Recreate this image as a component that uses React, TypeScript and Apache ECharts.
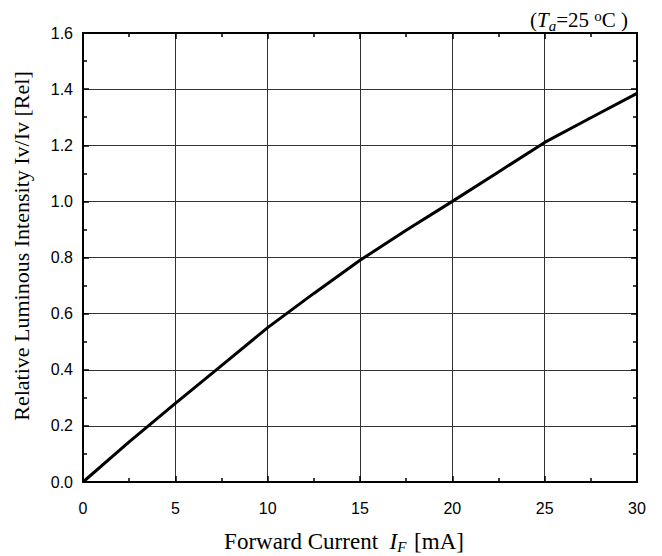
import React, { useEffect, useRef } from "react";
import * as echarts from "echarts";

const currents = [0, 2.5, 5, 7.5, 10, 12.5, 15, 17.5, 20, 22.5, 25, 27.5, 30];
const intensity = [0, 0.143, 0.28, 0.415, 0.55, 0.672, 0.79, 0.897, 1.0, 1.105, 1.21, 1.298, 1.385];
const xTicks = { min: 0, max: 30, interval: 5 };
const yTicks = { min: 0, max: 1.6, interval: 0.2 };

export default function App() {
  const ref = useRef<HTMLDivElement>(null);
  useEffect(() => {
    const chart = echarts.init(ref.current!, undefined, { renderer: "svg" });
    const axisCommon = {
      axisLine: { show: true, onZero: false, lineStyle: { color: "#000", width: 2 } },
      axisTick: { show: true, inside: true, length: 6, lineStyle: { color: "#000", width: 1.5 } },
      minorTick: { show: true, splitNumber: 2, length: 4, lineStyle: { color: "#000", width: 1.5 } },
    };
    const serif = "'Liberation Serif', 'Times New Roman', serif";
    const sans = "'Liberation Sans', Arial, sans-serif";
    chart.setOption({
      animation: false,
      backgroundColor: "#fff",
      grid: { left: 83, top: 33, width: 554, height: 449, containLabel: false },
      xAxis: [
        {
          type: "value",
          ...xTicks,
          position: "bottom",
          ...axisCommon,
          axisLabel: { color: "#000", fontSize: 16, fontFamily: sans, margin: 18 },
          splitLine: { show: true, lineStyle: { color: "#333", width: 1 } },
        },
        {
          type: "value",
          ...xTicks,
          position: "top",
          ...axisCommon,
          axisLabel: { show: false },
          splitLine: { show: false },
        },
      ],
      yAxis: [
        {
          type: "value",
          ...yTicks,
          position: "left",
          ...axisCommon,
          axisLabel: {
            color: "#000",
            fontSize: 16,
            fontFamily: sans,
            margin: 10,
            formatter: (v: number) => v.toFixed(1),
          },
          splitLine: { show: true, lineStyle: { color: "#333", width: 1 } },
        },
        {
          type: "value",
          ...yTicks,
          position: "right",
          ...axisCommon,
          axisLabel: { show: false },
          splitLine: { show: false },
        },
      ],
      series: [
        {
          type: "line",
          data: currents.map((c, i) => [c, intensity[i]]),
          smooth: false,
          showSymbol: false,
          lineStyle: { color: "#000", width: 3 },
          xAxisIndex: 0,
          yAxisIndex: 0,
        },
      ],
      graphic: [
        {
          type: "text",
          x: 344,
          y: 541,
          style: {
            text: "Forward Current  {i|I}{sub|F} [mA]",
            fill: "#000",
            font: `23px ${serif}`,
            align: "center",
            verticalAlign: "middle",
            rich: {
              i: { fontStyle: "italic", fontSize: 23, fontFamily: serif, fill: "#000" },
              sub: { fontStyle: "italic", fontSize: 15, fontFamily: serif, fill: "#000", padding: [12, 2, 0, 0] },
            },
          },
        },
        {
          type: "text",
          x: 21,
          y: 246,
          rotation: Math.PI / 2,
          style: {
            text: "Relative Luminous Intensity Iv/Iv [Rel]",
            fill: "#000",
            font: `22px ${serif}`,
            align: "center",
            verticalAlign: "middle",
          },
        },
        {
          type: "text",
          x: 628,
          y: 20,
          style: {
            text: "({i|T}{sub|a}=25 {sup|o}C )",
            fill: "#000",
            font: `21px ${serif}`,
            align: "right",
            verticalAlign: "middle",
            rich: {
              i: { fontStyle: "italic", fontSize: 21, fontFamily: serif, fill: "#000" },
              sub: { fontStyle: "italic", fontSize: 15, fontFamily: serif, fill: "#000", padding: [11, 0, 0, 0] },
              sup: { fontSize: 15, fontFamily: serif, fill: "#000", padding: [0, 0, 9, 0] },
            },
          },
        },
      ],
    });
    return () => chart.dispose();
  }, []);
  return <div ref={ref} style={{ width: 662, height: 556, position: "absolute", left: 0, top: 0 }} />;
}
